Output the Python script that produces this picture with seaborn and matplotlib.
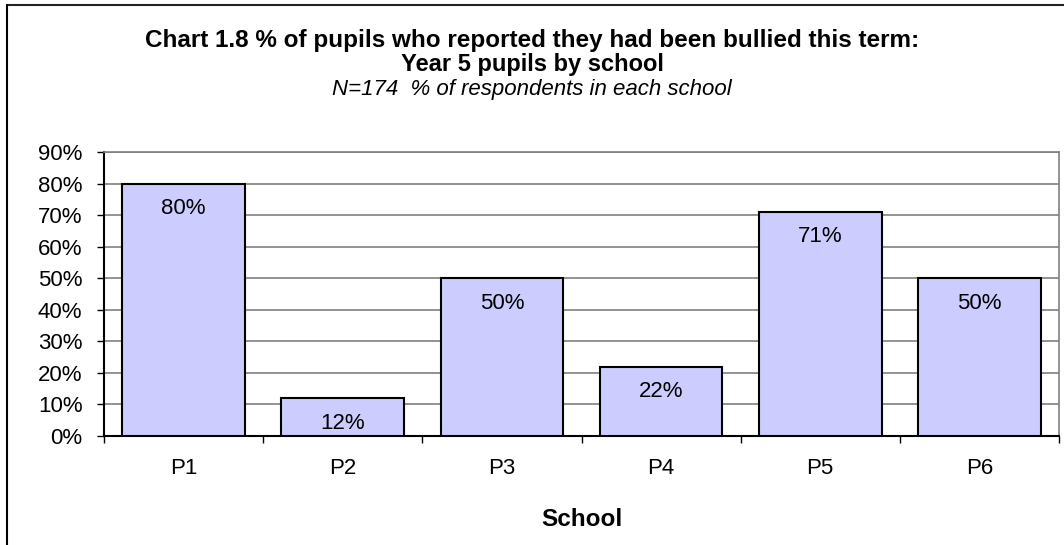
import matplotlib
matplotlib.use("Agg")
import matplotlib.pyplot as plt
from matplotlib.lines import Line2D
from matplotlib.ticker import FixedLocator, FuncFormatter
import seaborn as sns
import pandas as pd

# Data
schools = ["P1", "P2", "P3", "P4", "P5", "P6"]
bullied_pct = [80, 12, 50, 22, 71, 50]
y_ticks = [0, 10, 20, 30, 40, 50, 60, 70, 80, 90]

title_line1 = "Chart 1.8 % of pupils who reported they had been bullied this term:"
title_line2 = "Year 5 pupils by school"
subtitle = "N=174  % of respondents in each school"
x_label = "School"

sns.set_theme(style="white")
plt.rcParams["font.family"] = ["Liberation Sans", "DejaVu Sans"]

W, H = 1064, 545
fig = plt.figure(figsize=(W / 100, H / 100), dpi=100)
fig.patch.set_facecolor("white")

ax = fig.add_axes([104 / W, 1 - 436 / H, (1059 - 104) / W, (436 - 152) / H])

df = pd.DataFrame({"school": schools, "pct": bullied_pct})
sns.barplot(data=df, x="school", y="pct", color="#CCCCFF", saturation=1,
            edgecolor="black", linewidth=1.5, width=0.77, ax=ax, zorder=3)

ax.set_ylim(0, 90)
ax.set_xlim(-0.5, len(schools) - 0.5)
ax.yaxis.set_major_locator(FixedLocator(y_ticks))
ax.yaxis.set_major_formatter(FuncFormatter(lambda v, p: f"{int(v)}%"))

# gridlines behind the bars
ax.set_axisbelow(True)
ax.grid(axis="y", color="#808080", linewidth=1.2, zorder=0)
ax.grid(axis="x", visible=False)

# category labels centred, tick marks between categories
ax.set_xticks(range(len(schools)))
ax.set_xticklabels(schools)
ax.xaxis.set_minor_locator(FixedLocator([i - 0.5 for i in range(len(schools) + 1)]))
ax.tick_params(axis="x", which="major", length=0, pad=16, labelsize=16, colors="black")
ax.tick_params(axis="x", which="minor", length=5, width=1, color="black", bottom=True)
ax.tick_params(axis="y", which="major", length=5, width=1, color="black", left=True,
               labelsize=16, pad=10.5, colors="black")

for side in ["left", "bottom"]:
    ax.spines[side].set_color("black")
    ax.spines[side].set_linewidth(1.5)
for side in ["right", "top"]:
    ax.spines[side].set_visible(True)
    ax.spines[side].set_color("#808080")
    ax.spines[side].set_linewidth(1.2)

ax.set_ylabel("")
ax.set_xlabel(x_label, fontsize=17.5, fontweight="bold", labelpad=21, color="black")

# value labels just inside the top of each bar
for bar, v in zip(ax.patches, bullied_pct):
    ax.annotate(f"{v}%", (bar.get_x() + bar.get_width() / 2, bar.get_height()),
                xytext=(0, -18), textcoords="offset points",
                ha="center", va="center", fontsize=16, color="black", zorder=4)

# titles
fig.text(0.5, 1 - 40 / H, title_line1, ha="center", va="center",
         fontsize=17.5, fontweight="bold", color="black")
fig.text(0.5, 1 - 65 / H, title_line2, ha="center", va="center",
         fontsize=17, fontweight="bold", color="black")
fig.text(0.5, 1 - 89 / H, subtitle, ha="center", va="center",
         fontsize=16, fontstyle="italic", color="black")

# outer chart frame
fig.add_artist(Line2D([7 / W, 1.0], [1 - 5 / H, 1 - 5 / H], transform=fig.transFigure,
                      color="#222222", linewidth=1.5))
fig.add_artist(Line2D([7 / W, 7 / W], [0.0, 1 - 5 / H], transform=fig.transFigure,
                      color="black", linewidth=1.5))

fig.savefig("out.png", dpi=100, facecolor="white")
